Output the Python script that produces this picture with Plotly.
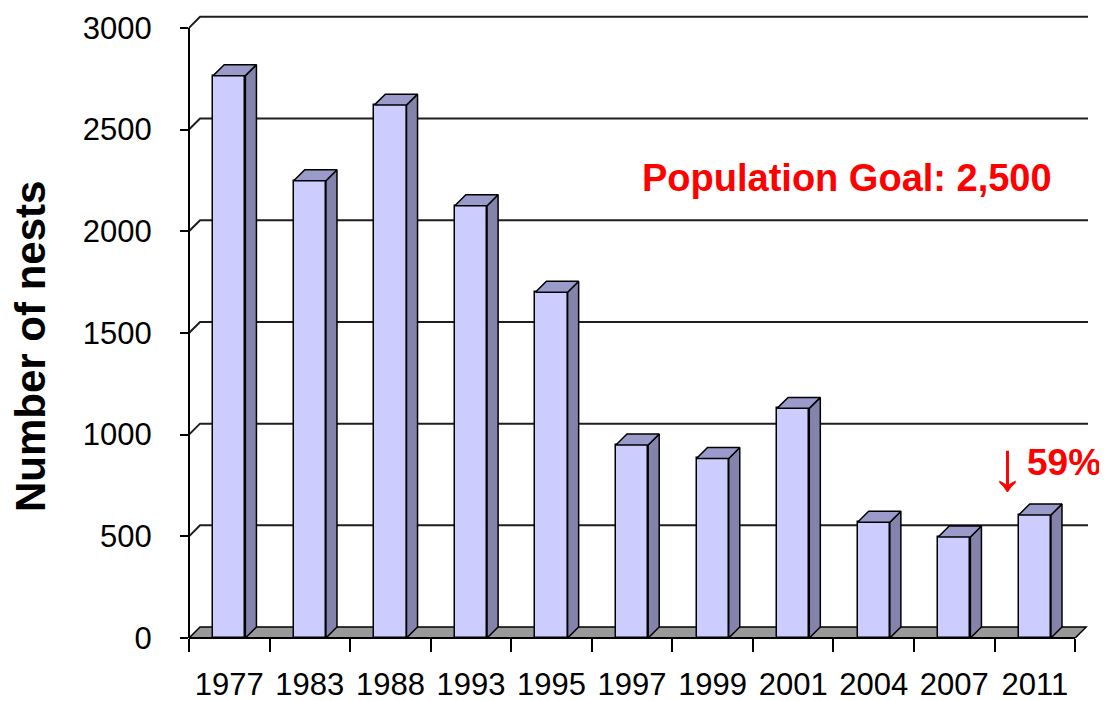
import plotly.graph_objects as go

# ---- data ----
years = ["1977", "1983", "1988", "1993", "1995", "1997", "1999", "2001", "2004", "2007", "2011"]
nests = [2765, 2248, 2620, 2125, 1700, 949, 883, 1129, 569, 497, 605]
y_ticks = [0, 500, 1000, 1500, 2000, 2500, 3000]
goal_text = "Population Goal: 2,500"
change_text = "59%"

# ---- 3D look parameters (in axis units) ----
n = len(years)
xs = list(range(n))
bar_w = 0.40
ddx = 0.137      # depth offset along x (category units)
ddy = 54         # depth offset along y (value units)
x_min, x_max = -0.5, 10.66
y_min, y_max = 0, 3068

FRONT = "#CCCCFF"
SIDE = "#8383AB"
TOP = "#9A9ACB"
FLOOR = "#999999"
font_main = "Liberation Sans, Arial, sans-serif"

fig = go.Figure()

# front faces
fig.add_trace(go.Bar(
    x=xs, y=nests, width=bar_w,
    marker=dict(color=FRONT, line=dict(color="black", width=1.5)),
    hoverinfo="x+y", showlegend=False,
))

# side faces and top faces computed from data
side_x, side_y, top_x, top_y = [], [], [], []
for xi, v in zip(xs, nests):
    r = xi + bar_w / 2
    l = xi - bar_w / 2
    side_x += [r, r + ddx, r + ddx, r, r, None]
    side_y += [0, ddy, v + ddy, v, 0, None]
    top_x += [l, l + ddx, r + ddx, r, l, None]
    top_y += [v, v + ddy, v + ddy, v, v, None]

fig.add_trace(go.Scatter(x=side_x, y=side_y, mode="lines", fill="toself",
                         fillcolor=SIDE, line=dict(color="black", width=1.5),
                         hoverinfo="skip", showlegend=False))
fig.add_trace(go.Scatter(x=top_x, y=top_y, mode="lines", fill="toself",
                         fillcolor=TOP, line=dict(color="black", width=1.5),
                         hoverinfo="skip", showlegend=False))

shapes = []
# floor
shapes.append(dict(
    type="path", xref="x", yref="y", layer="below",
    path=f"M {x_min},0 L {n - 0.5},0 L {n - 0.5 + ddx},{ddy} L {x_min + ddx},{ddy} Z",
    fillcolor=FLOOR, line=dict(color="black", width=1.5),
))
# back-wall gridlines (with diagonal from front axis)
for t in y_ticks[1:]:
    shapes.append(dict(
        type="path", xref="x", yref="y", layer="below",
        path=f"M {x_min},{t} L {x_min + ddx},{t + ddy} L {x_max},{t + ddy}",
        line=dict(color="#1e1e1e", width=2),
    ))
# front axis lines
shapes.append(dict(type="line", xref="paper", yref="y", x0=0, x1=0,
                   y0=0, y1=y_ticks[-1], line=dict(color="black", width=2)))
shapes.append(dict(type="line", xref="x", yref="paper", x0=x_min, x1=n - 0.5,
                   y0=0, y1=0, line=dict(color="black", width=2)))

# the page body adds an 8px offset; figure is sized to fit the window
OFF = 8
W, H = 1107 - OFF, 701 - OFF
PW, PH = 899, 624
L, T = 189 - OFF, 14 - OFF

def px(xp):
    return (xp - OFF - L) / PW

def py(yp):
    return (T + PH - (yp - OFF)) / PH

fig.update_layout(
    width=W, height=H,
    margin=dict(l=L, r=W - L - PW, t=T, b=H - T - PH),
    paper_bgcolor="white", plot_bgcolor="white",
    shapes=shapes,
    bargap=0,
    xaxis=dict(
        range=[x_min, x_max], tickmode="array", tickvals=xs, ticktext=years,
        ticks="", showgrid=False, zeroline=False, showline=False, automargin=False,
        tickfont=dict(family=font_main, size=31, color="black"),
        ticklabelstandoff=25,
        minor=dict(tickmode="array", tickvals=[i - 0.5 for i in range(n + 1)],
                   ticks="outside", ticklen=13, tickwidth=1.5, tickcolor="black",
                   showgrid=False),
    ),
    yaxis=dict(
        range=[y_min, y_max], tickmode="array", tickvals=y_ticks,
        ticks="outside", ticklen=8, tickwidth=1.5, tickcolor="black",
        showgrid=False, zeroline=False, showline=False, automargin=False,
        tickfont=dict(family=font_main, size=31, color="black"),
        ticklabelstandoff=22,
    ),
    annotations=[
        dict(text="<b>Number of nests</b>", textangle=-90, xref="paper", yref="paper",
             x=px(30), y=py(347), showarrow=False, xanchor="center", yanchor="middle",
             font=dict(family=font_main, size=42, color="black")),
        dict(text="<b>" + goal_text + "</b>", xref="paper", yref="paper",
             x=px(847), y=py(178), showarrow=False,
             xanchor="center", yanchor="middle",
             font=dict(family=font_main, size=38, color="#FF0000")),
        dict(text="↓", xref="paper", yref="paper",
             x=px(1007), y=py(466), showarrow=False,
             xanchor="center", yanchor="middle",
             font=dict(family=font_main, size=70, color="#FF0000")),
        dict(text="<b>" + change_text + "</b>", xref="paper", yref="paper",
             x=px(1064), y=py(462), showarrow=False,
             xanchor="center", yanchor="middle",
             font=dict(family=font_main, size=37, color="#FF0000")),
    ],
)

fig.write_html("out.html")
